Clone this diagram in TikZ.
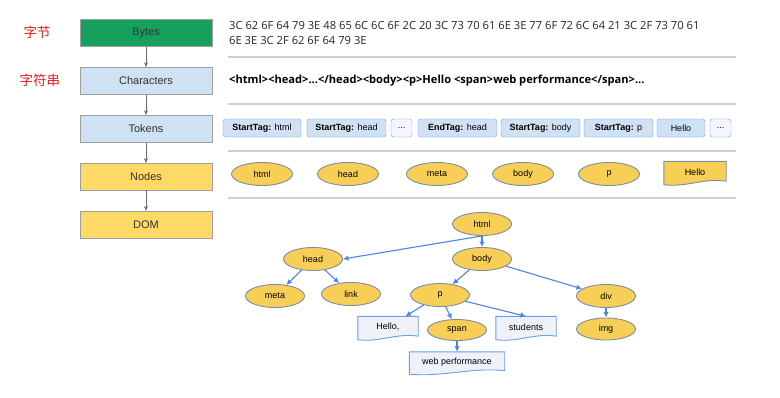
\documentclass[tikz,border=0pt]{standalone}
\usepackage{fontspec}
\setmainfont{Liberation Sans}
\newfontfamily\hexfont{Open Sans}
\newfontfamily\cjk{Noto Sans CJK SC}
\usepackage{tikz}
\usetikzlibrary{positioning,shapes.geometric,calc,backgrounds,arrows.meta}
\definecolor{bytegreen}{HTML}{17A05D}
\definecolor{stageblue}{HTML}{CFE2F3}
\definecolor{stageyellow}{HTML}{FFD966}
\definecolor{elemyellow}{HTML}{F7CF57}
\definecolor{elemedge}{HTML}{7D8CA3}
\definecolor{tokenedge}{HTML}{6D9EEB}
\definecolor{treeblue}{HTML}{4A86E8}
\definecolor{docgray}{HTML}{EEF1F6}
\definecolor{rulegray}{HTML}{D0D0D0}
\definecolor{cnred}{HTML}{E02020}

% outline of a page with a wavy bottom, drawn round node #1
\newcommand{\docshape}[2]{%
  \filldraw[#2] (#1.north west) -- (#1.north east) -- ([yshift=1.5pt]#1.south east)
    .. controls ($(#1.south east)!0.35!(#1.south west)+(0,-5)$)
    and ($(#1.south east)!0.65!(#1.south west)+(0,5)$)
    .. ([yshift=-2pt]#1.south west) -- cycle;}

\begin{document}
\begin{tikzpicture}[x=1pt, y=-1pt,
    stage/.style={draw=gray!75, minimum width=132pt, minimum height=27pt,
                  inner sep=0pt, font=\fontsize{11}{13}\selectfont, text=black!80},
    flow/.style={-{Stealth[length=5pt,width=4pt]}, draw=gray!85!black, line width=0.8pt},
    cnlabel/.style={font=\cjk\fontsize{13.5}{16}\selectfont, text=cnred},
    rule/.style={draw=rulegray, line width=1.5pt},
    token/.style={draw=tokenedge, fill=stageblue, rounded corners=2.5pt, minimum height=18pt,
                  inner sep=0pt, font=\fontsize{9}{11}\selectfont},
    more/.style={token, fill=blue!4, minimum width=21pt},
    elem/.style={ellipse, draw=elemedge, fill=elemyellow, minimum width=59pt, minimum height=23pt,
                 inner sep=0pt, line width=0.9pt, font=\fontsize{9}{11}\selectfont},
    doc/.style={minimum width=60pt, minimum height=21pt, inner sep=0pt,
                font=\fontsize{9}{11}\selectfont},
    edge/.style={-{Latex[length=5.5pt,width=5.5pt]}, draw=treeblue, line width=1.1pt}
  ]
    \useasboundingbox (0,0) rectangle (780,397);

    % stages
    \node[stage, fill=bytegreen] (bytes) at (146,33) {Bytes};
    \node[stage, fill=stageblue, below=20.5pt of bytes] (chars) {Characters};
    \node[stage, fill=stageblue, below=20.5pt of chars] (tokens) {Tokens};
    \node[stage, fill=stageyellow, below=20.5pt of tokens] (nodes) {Nodes};
    \node[stage, fill=stageyellow, below=20.5pt of nodes] (dom) {DOM};
    \foreach \a/\b in {bytes/chars, chars/tokens, tokens/nodes, nodes/dom}
      \draw[flow] (\a) -- (\b);

    \node[cnlabel] (zijie) at (37,32) {字节};
    \node[cnlabel] (zifu) at (40,80) {字符串};

    % what each stage holds
    \node[anchor=west, align=left, inner sep=0pt, font=\hexfont\fontsize{11.2}{14.5}\selectfont, text=black!85] (hex) at (229,33)
      {3C 62 6F 64 79 3E 48 65 6C 6C 6F 2C 20 3C 73 70 61 6E 3E 77 6F 72 6C 64 21 3C 2F 73 70 61\\
       6E 3E 3C 2F 62 6F 64 79 3E};
    \node[anchor=west, inner sep=0pt, font=\hexfont\bfseries\fontsize{11.1}{13}\selectfont] (text) at (229,81)
      {<html><head>...</head><body><p>Hello <span>web performance</span>...};

    \foreach \y in {57,104,151,198}
      \draw[rule] (228,\y) -- (736,\y);

    \node[token, minimum width=78pt] (t1) at (262,128) {\textbf{StartTag:} html};
    \node[token, minimum width=79pt] (t2) at (346.5,128) {\textbf{StartTag:} head};
    \node[more] (t3) at (401.5,128) {...};
    \node[token, minimum width=79pt] (t4) at (457.5,128) {\textbf{EndTag:} head};
    \node[token, minimum width=79pt] (t5) at (540.5,128) {\textbf{StartTag:} body};
    \node[token, minimum width=69pt] (t6) at (618.5,128) {\textbf{StartTag:} p};
    \node[token, minimum width=48pt] (t7) at (681,128) {Hello};
    \node[more] (t8) at (720.5,128) {...};

    \node[elem, minimum width=61pt] (n1) at (262,174) {html};
    \node[elem, minimum width=61pt] (n2) at (348,174) {head};
    \node[elem, minimum width=61pt] (n3) at (437,174) {meta};
    \node[elem, minimum width=61pt] (n4) at (523,174) {body};
    \node[elem, minimum width=61pt] (n5) at (609,174) {p};
    \node[doc, minimum width=62pt] (n6) at (695,172) {Hello};

    % DOM tree
    \node[elem] (html) at (482,224) {html};
    \node[elem] (head) at (313,259) {head};
    \node[elem] (body) at (482,259) {body};
    \node[elem] (meta) at (275,296) {meta};
    \node[elem] (link) at (351,294) {link};
    \node[elem] (p) at (440,295) {p};
    \node[elem] (div) at (606,296) {div};
    \node[doc] (hello) at (388,327) {Hello,};
    \node[elem, minimum height=21pt] (span) at (457,330) {span};
    \node[doc] (students) at (526,327) {students};
    \node[elem, minimum height=22pt] (img) at (606,329) {img};
    \node[doc, minimum width=95pt, minimum height=20pt] (web) at (457,362) {web performance};

    \begin{scope}[on background layer]
      \docshape{n6}{draw=elemedge, fill=elemyellow, line width=0.9pt}
      \docshape{hello}{draw=tokenedge, fill=docgray, line width=0.9pt}
      \docshape{students}{draw=tokenedge, fill=docgray, line width=0.9pt}
      \docshape{web}{draw=tokenedge, fill=docgray, line width=0.9pt}
    \end{scope}

    \draw[edge] (html.south) -- (head.east);
    \draw[edge] (html) -- (body);
    \draw[edge] (head) -- (meta);
    \draw[edge] (head) -- (link);
    \draw[edge] (body) -- (p);
    \draw[edge] (body) -- (div);
    \draw[edge] (p) -- (hello);
    \draw[edge] (p) -- (span);
    \draw[edge] (p) -- (students.north);
    \draw[edge] (span) -- (web);
    \draw[edge] (div) -- (img);
  \end{tikzpicture}
\end{document}
